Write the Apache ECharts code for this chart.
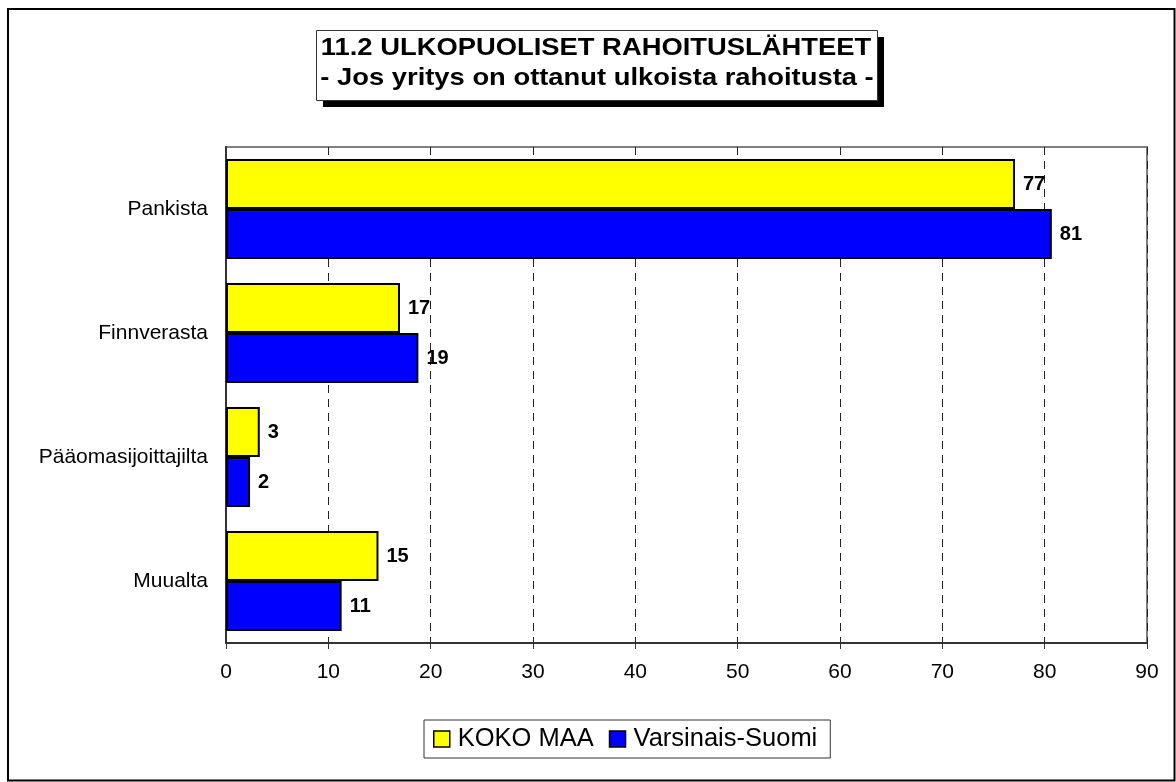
<!DOCTYPE html>
<html>
<head>
    <meta charset="utf-8">
    <title>11.2 Ulkopuoliset rahoituslähteet</title>
    <script src="https://cdn.jsdelivr.net/npm/echarts@6/dist/echarts.min.js"></script>
    <style>
        html, body { margin: 0; padding: 0; background: #fff; }
        #main { width: 1176px; height: 782px; }
    </style>
</head>
<body>
    <div id="main"></div>
    <script>
        var categories = ['Pankista', 'Finnverasta', 'Pääomasijoittajilta', 'Muualta'];
        var kokoMaa = [77.1, 17.0, 3.3, 14.9];
        var varsinaisSuomi = [80.7, 18.8, 2.35, 11.3];
        var seriesNames = ['KOKO MAA', 'Varsinais-Suomi'];
        var titleLines = ['11.2 ULKOPUOLISET RAHOITUSLÄHTEET', '- Jos yritys on ottanut ulkoista rahoitusta -'];

        var chart = echarts.init(document.getElementById('main'));

        var barLabel = {
            show: true,
            position: 'right',
            distance: 8,
            color: '#000',
            fontFamily: 'Liberation Sans',
            fontWeight: 'bold',
            fontSize: 20,
            formatter: function (p) { return Math.round(p.value); }
        };

        // title box drawn by hand: excel style box with hard shadow
        var titleFont = 'bold 24px "Liberation Sans"';
        var titleGraphic = [{
            type: 'rect',
            shape: { x: 323, y: 37, width: 561, height: 70 },
            style: { fill: '#000' },
            silent: true
        }, {
            type: 'rect',
            shape: { x: 316.5, y: 30.5, width: 561, height: 70 },
            style: { fill: '#fff', stroke: '#333', lineWidth: 1 },
            silent: true
        }, {
            type: 'text',
            x: 596,
            y: 48,
            scaleX: 1.14,
            style: { text: titleLines[0], font: titleFont, fill: '#000', align: 'center', verticalAlign: 'middle' },
            silent: true
        }, {
            type: 'text',
            x: 597,
            y: 78,
            scaleX: 1.14,
            style: { text: titleLines[1], font: titleFont, fill: '#000', align: 'center', verticalAlign: 'middle' },
            silent: true
        }];

        var option = {
            animation: false,
            backgroundColor: '#fff',
            textStyle: { fontFamily: 'Liberation Sans' },
            graphic: [{
                type: 'rect',
                shape: { x: 8, y: 9, width: 1166.5, height: 771.5 },
                style: { fill: null, stroke: '#000', lineWidth: 2 },
                silent: true,
                z: -1
            }].concat(titleGraphic),
            legend: {
                data: seriesNames,
                left: 424,
                top: 720,
                orient: 'horizontal',
                padding: [6, 13, 6, 9],
                itemGap: 15,
                itemWidth: 16,
                itemHeight: 16,
                borderColor: '#333',
                borderWidth: 1,
                icon: 'rect',
                itemStyle: { borderColor: '#000', borderWidth: 1.5 },
                textStyle: {
                    fontFamily: 'Liberation Sans',
                    fontSize: 25.5,
                    color: '#000',
                    padding: [0, 0, 0, 3]
                }
            },
            grid: {
                left: 226,
                right: 29,
                top: 147,
                bottom: 139,
                show: true,
                borderColor: '#808080',
                borderWidth: 2,
                containLabel: false
            },
            xAxis: {
                type: 'value',
                min: 0,
                max: 90,
                interval: 10,
                axisLine: { show: true, lineStyle: { color: '#333', width: 2 } },
                axisTick: { show: true, inside: false, length: 6, lineStyle: { color: '#333', width: 1 } },
                splitLine: {
                    show: true,
                    lineStyle: { color: '#222', type: [8, 6], width: 1 }
                },
                axisLabel: {
                    color: '#000',
                    fontSize: 21,
                    margin: 19,
                    fontFamily: 'Liberation Sans'
                }
            },
            yAxis: {
                type: 'category',
                data: categories,
                inverse: true,
                axisLine: { show: true, lineStyle: { color: '#333', width: 2 } },
                axisTick: { show: false },
                axisLabel: {
                    color: '#000',
                    fontSize: 21,
                    margin: 18,
                    fontFamily: 'Liberation Sans'
                }
            },
            series: [{
                name: seriesNames[0],
                type: 'bar',
                data: kokoMaa,
                barWidth: 50,
                barGap: '0%',
                itemStyle: { color: '#ffff00', borderColor: '#000', borderWidth: 2 },
                label: barLabel
            }, {
                name: seriesNames[1],
                type: 'bar',
                data: varsinaisSuomi,
                barWidth: 50,
                barGap: '0%',
                itemStyle: { color: '#0000ff', borderColor: '#000', borderWidth: 2 },
                label: barLabel
            }]
        };

        chart.setOption(option);
    </script>
</body>
</html>
